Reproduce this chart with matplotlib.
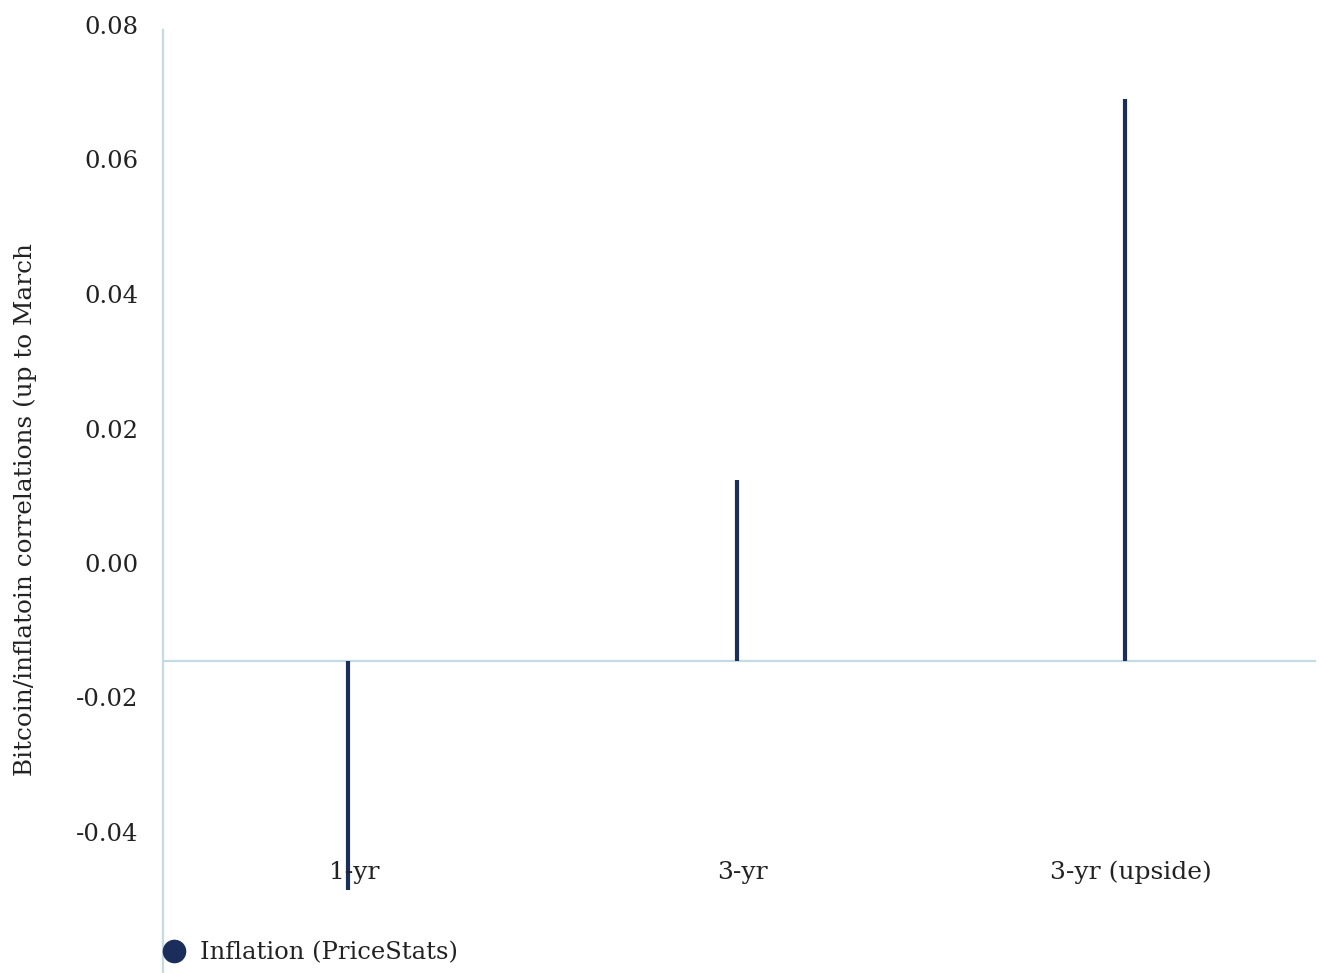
import matplotlib
matplotlib.use("Agg")
import matplotlib.pyplot as plt
from matplotlib.lines import Line2D

# Correlation of Bitcoin returns with PriceStats inflation, by window
categories = ["1-yr", "3-yr", "3-yr (upside)"]
correlations = [-0.0486, 0.0123, 0.0690]
series_name = "Inflation (PriceStats)"
baseline = -0.0146
yticks = [-0.04, -0.02, 0.00, 0.02, 0.04, 0.06, 0.08]
ylabel = "Bitcoin/inflatoin correlations (up to March"

NAVY = "#1b2d5a"
AXIS = "#c4dbe3"
TEXT = "#222222"
FONT = "DejaVu Serif"

plt.rcParams["font.family"] = FONT

W, H = 1320, 973
fig = plt.figure(figsize=(W / 100, H / 100), dpi=100)

# axes spans the full height; the left edge is the vertical axis line
left_px, right_px = 163, 1316
ax = fig.add_axes([left_px / W, 0, (right_px - left_px) / W, 1])

# pixel scale: 0.00 at y=563, 0.02 per 134.5 px
zero_px, step_px = 563, 134.5
ymax = zero_px / step_px * 0.02
ymin = (zero_px - H) / step_px * 0.02
ax.set_ylim(ymin, ymax)

# category scale: first bar at x=348 px, spacing 388.5 px
x0_px, dx_px = 348, 388.5
ax.set_xlim((left_px - x0_px) / dx_px, (right_px - x0_px) / dx_px)

xs = list(range(len(categories)))
ax.vlines(xs, baseline, correlations, colors=NAVY, linewidth=3.0, zorder=3)
ax.axhline(baseline, color=AXIS, linewidth=1.6, zorder=2)

for s in ["top", "right", "bottom"]:
    ax.spines[s].set_visible(False)
ax.spines["left"].set_color(AXIS)
ax.spines["left"].set_linewidth(1.6)
ax.spines["left"].set_bounds(ymin, (zero_px - 30) / step_px * 0.02)

ax.set_yticks(yticks)
ax.set_yticklabels([f"{v:.2f}" for v in yticks])
ax.tick_params(axis="y", length=0, pad=18, labelsize=17.5, labelcolor=TEXT)
ax.set_xticks([])

label_y = (zero_px - 872) / step_px * 0.02
for i, c in enumerate(categories):
    ax.text(i + 0.015, label_y, c, ha="center", va="center",
            fontsize=18, color=TEXT)

fig.text(25 / W, 1 - 509 / H, ylabel, rotation=90, ha="center", va="center",
         fontsize=17.8, color=TEXT)

handle = Line2D([], [], marker="o", linestyle="", color=NAVY, markersize=16)
fig.legend([handle], [series_name], loc="center left",
           bbox_to_anchor=(150 / W, 1 - 953 / H), frameon=False,
           borderpad=0, handletextpad=0.55, handlelength=1.0,
           fontsize=17.5, labelcolor=TEXT)

fig.savefig("out.png", dpi=100)
